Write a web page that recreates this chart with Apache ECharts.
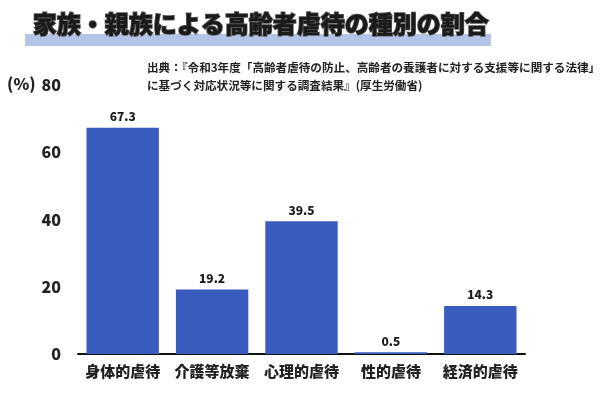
<!DOCTYPE html>
<html><head><meta charset="utf-8">
<script src="https://cdn.jsdelivr.net/npm/echarts@6/dist/echarts.min.js"></script>
<style>html,body{margin:0;padding:0;background:#fff}#c{width:600px;height:400px}</style>
</head><body><div id="c"></div>
<script>
const categories = ['身体的虐待', '介護等放棄', '心理的虐待', '性的虐待', '経済的虐待'];
const values = [67.3, 19.2, 39.5, 0.5, 14.3];
const yTicks = [0, 20, 40, 60, 80];
const titleText = '家族・親族による高齢者虐待の種別の割合';
const sourceLine1 = '出典：『令和3年度「高齢者虐待の防止、高齢者の養護者に対する支援等に関する法律」';
const sourceLine2 = 'に基づく対応状況等に関する調査結果』(厚生労働省)';
const unitLabel = '(%)';

const font = '"Noto Sans CJK JP", "Noto Sans", sans-serif';
const chart = echarts.init(document.getElementById('c'));
chart.setOption({
  animation: false,
  backgroundColor: '#fff',
  grid: { left: 78, right: 75, top: 85, bottom: 46 },
  xAxis: {
    type: 'category', data: categories,
    axisLine: { lineStyle: { color: '#111', width: 2 } },
    axisTick: { show: false },
    axisLabel: { interval: 0, fontFamily: font, fontWeight: 900, fontSize: 15, color: '#222', margin: 10 }
  },
  yAxis: {
    type: 'value', min: yTicks[0], max: yTicks[yTicks.length - 1], interval: 20,
    splitLine: { show: false }, axisLine: { show: false }, axisTick: { show: false },
    axisLabel: { fontFamily: font, fontWeight: 900, fontSize: 16, color: '#222', margin: 17 }
  },
  series: [{
    type: 'bar', data: values, barCategoryGap: '19%',
    itemStyle: { color: '#3a5cbf' },
    label: { show: true, position: 'top', distance: 5, fontFamily: font, fontWeight: 900, fontSize: 12, color: '#1a1a1a',
      formatter: p => p.value.toFixed(1) }
  }],
  graphic: [
    { type: 'rect', left: 25, top: 34, shape: { width: 466, height: 12 }, style: { fill: '#b4c4e8' }, z: 0 },
    { type: 'text', left: 32, top: 11, z: 10, style: { text: titleText, font: '900 24px ' + font, fill: '#1a1a1a', stroke: '#555', lineWidth: 1.5 } },
    { type: 'text', left: 147, top: 62, style: { text: sourceLine1, font: 'bold 11.6px ' + font, fill: '#222' } },
    { type: 'text', left: 147, top: 80, style: { text: sourceLine2, font: 'bold 11.6px ' + font, fill: '#222' } },
    { type: 'text', left: 7, top: 76, style: { text: unitLabel, font: '900 16px ' + font, fill: '#222' } }
  ]
});
</script></body></html>
